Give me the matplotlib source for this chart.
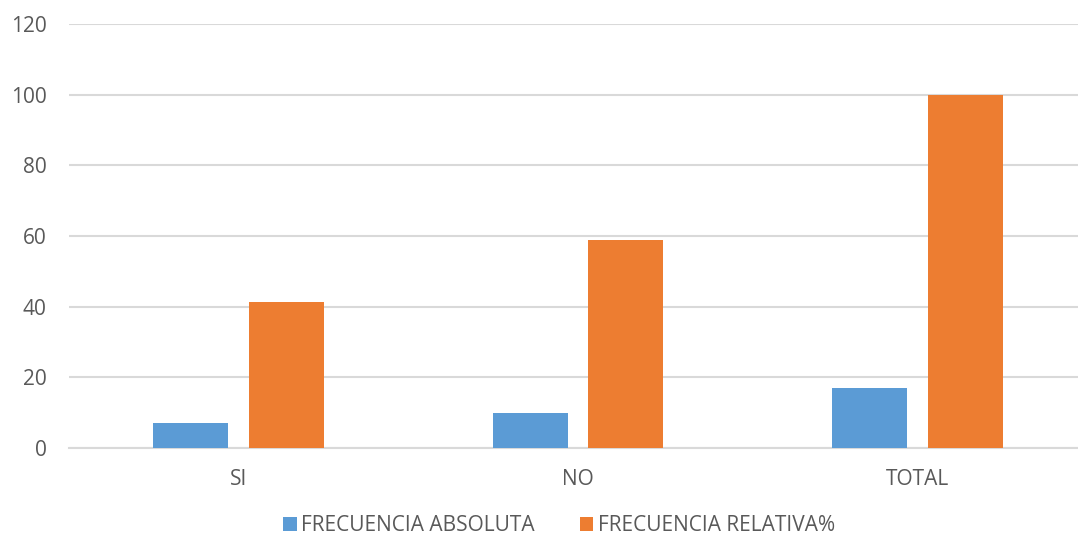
import matplotlib
matplotlib.use("Agg")
import matplotlib.pyplot as plt
import numpy as np

categories = ["SI", "NO", "TOTAL"]
absoluta = [7, 10, 17]
relativa = [41.18, 58.82, 100]
series_names = ["FRECUENCIA ABSOLUTA", "FRECUENCIA RELATIVA%"]
y_ticks = [0, 20, 40, 60, 80, 100, 120]

plt.rcParams['font.family'] = ['Open Sans', 'DejaVu Sans']
text_color = '#595959'
grid_color = '#d9d9d9'

fig = plt.figure(figsize=(10.78, 5.4), dpi=100)
ax = fig.add_axes([69 / 1078, 92 / 540, (1087 - 69) / 1078, 424 / 540])

x = np.arange(len(categories))
offset = 0.1414
width = 0.221
ax.bar(x - offset, absoluta, width, color='#5B9BD5', label=series_names[0], zorder=3)
ax.bar(x + offset, relativa, width, color='#ED7D31', label=series_names[1], zorder=3)

ax.set_xlim(-0.5, 2.5)
ax.set_ylim(0, 120)
ax.set_yticks(y_ticks)
ax.set_xticks(x)
ax.set_xticklabels(categories)
ax.yaxis.grid(True, color=grid_color, linewidth=1.5, zorder=0)
for s in ['top', 'right', 'left']:
    ax.spines[s].set_visible(False)
ax.spines['bottom'].set_color(grid_color)
ax.spines['bottom'].set_linewidth(1.5)
ax.tick_params(axis='both', length=0, colors=text_color, labelsize=15)
ax.tick_params(axis='y', pad=16)
ax.tick_params(axis='x', pad=15)

leg = fig.legend(loc='lower center', bbox_to_anchor=(0.5186, -0.028), ncol=2, frameon=False,
                 fontsize=15, handlelength=0.63, handleheight=0.63, handletextpad=0.2,
                 columnspacing=2.2)
for t in leg.get_texts():
    t.set_color(text_color)

fig.savefig("out.png", dpi=100)
